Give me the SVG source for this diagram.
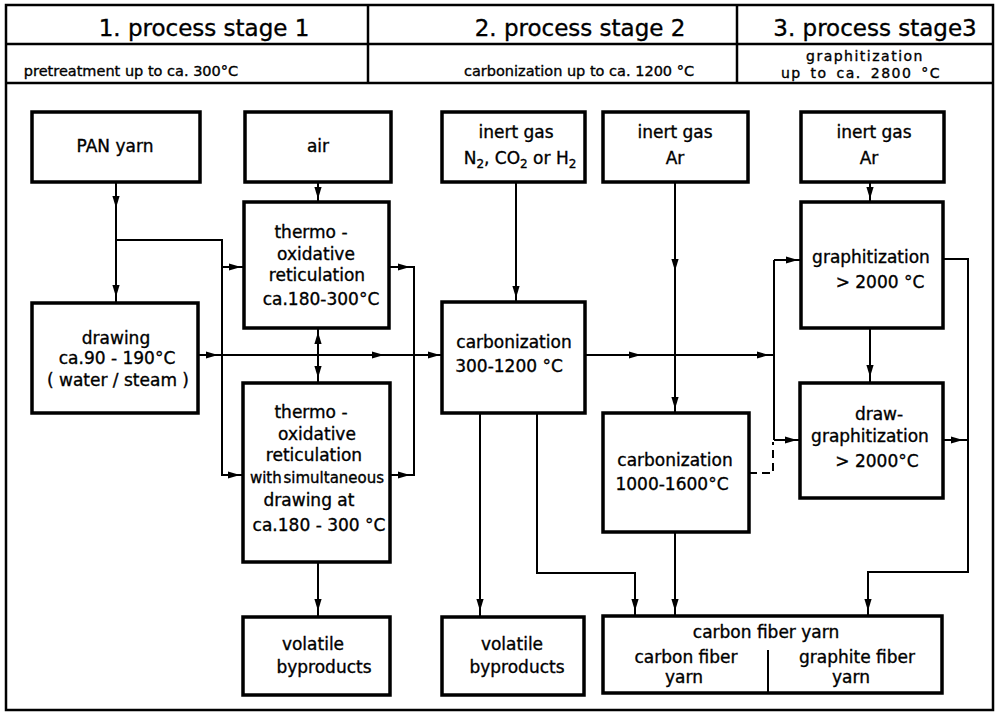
<svg xmlns="http://www.w3.org/2000/svg" width="1000" height="713" viewBox="0 0 1000 713">
  <style>
    .frame { fill: none; stroke: #000; stroke-width: 2.5; }
    .box { fill: #fff; stroke: #000; stroke-width: 3.5; }
    .thin { fill: none; stroke: #000; stroke-width: 2; }
    .ln { fill: none; stroke: #000; stroke-width: 2; }
    .dash { stroke-dasharray: 8 5; }
    text { font-family: "DejaVu Sans", "Liberation Sans", sans-serif; fill: #000; stroke: #000; stroke-width: 0.35; text-anchor: middle; }
    .h1 { font-size: 23px; }
    .h2 { font-size: 14.5px; }
    .h3 { font-size: 14px; letter-spacing: 1.5px; word-spacing: 3px; }
    .n { font-size: 17px; }
    .s { font-size: 15px; word-spacing: -3px; }
    .sub { font-size: 12px; }
  </style>
  <defs>
    <!-- small filled arrowhead, pointing down, tip at origin -->
    <path id="ah" d="M0,0 L-3.6,-12 L3.6,-12 Z" fill="#000"/>
  </defs>

  <!-- outer frame and stage header -->
  <g id="header">
    <rect class="frame" x="6" y="5" width="987" height="705"/>
    <line class="frame" x1="6" y1="44" x2="993" y2="44"/>
    <line class="frame" x1="6" y1="83" x2="993" y2="83"/>
    <line class="frame" x1="368" y1="5" x2="368" y2="83"/>
    <line class="frame" x1="737" y1="5" x2="737" y2="83"/>
    <text class="h1" x="204" y="36">1. process stage 1</text>
    <text class="h1" x="580" y="36">2. process stage 2</text>
    <text class="h1" x="875" y="36">3. process stage3</text>
    <text class="h2" x="131" y="76">pretreatment up to ca. 300°C</text>
    <text class="h2" x="579" y="76">carbonization up to ca. 1200 °C</text>
    <text class="h3" x="865" y="61">graphitization</text>
    <text class="h3" x="861" y="78">up to ca. 2800 °C</text>
  </g>

  <!-- connectors -->
  <g id="connectors">
    <path class="ln" d="M116,182 V303"/>
    <path class="ln" d="M116,240 H222 V475 H243"/>
    <path class="ln" d="M222,267 H244"/>
    <path class="ln" d="M318,182 V202"/>
    <path class="ln" d="M389,267 H414 V475 H390"/>
    <path class="ln" d="M318,328 V383"/>
    <path class="ln" d="M198,355 H442"/>
    <path class="ln" d="M318,562 V617"/>
    <path class="ln" d="M516,182 V302"/>
    <path class="ln" d="M585,355 H774"/>
    <path class="ln" d="M774,260 V440"/>
    <path class="ln" d="M774,260 H801"/>
    <path class="ln" d="M774,440 H800"/>
    <path class="ln dash" d="M749,473 H773 V442"/>
    <path class="ln" d="M675,182 V413"/>
    <path class="ln" d="M870,182 V202"/>
    <path class="ln" d="M870,328 V383"/>
    <path class="ln" d="M943,259 H968 V572 H868 V616"/>
    <path class="ln" d="M943,440 H968"/>
    <path class="ln" d="M480,413 V617"/>
    <path class="ln" d="M537,413 V573 H635 V616"/>
    <path class="ln" d="M675,532 V616"/>

    <!-- downward heads -->
    <use href="#ah" transform="translate(116,208)"/>
    <use href="#ah" transform="translate(116,297)"/>
    <use href="#ah" transform="translate(318,199)"/>
    <use href="#ah" transform="translate(318,378)"/>
    <use href="#ah" transform="translate(318,611)"/>
    <use href="#ah" transform="translate(516,298)"/>
    <use href="#ah" transform="translate(675,271)"/>
    <use href="#ah" transform="translate(675,409)"/>
    <use href="#ah" transform="translate(870,199)"/>
    <use href="#ah" transform="translate(870,377)"/>
    <use href="#ah" transform="translate(480,611)"/>
    <use href="#ah" transform="translate(635,611)"/>
    <use href="#ah" transform="translate(675,611)"/>
    <use href="#ah" transform="translate(868,611)"/>
    <!-- upward head -->
    <use href="#ah" transform="translate(318,332) rotate(180)"/>
    <!-- rightward heads -->
    <use href="#ah" transform="translate(241,267) rotate(-90)"/>
    <use href="#ah" transform="translate(240,475) rotate(-90)"/>
    <use href="#ah" transform="translate(410,267) rotate(-90)"/>
    <use href="#ah" transform="translate(410,475) rotate(-90)"/>
    <use href="#ah" transform="translate(218,355) rotate(-90)"/>
    <use href="#ah" transform="translate(384,355) rotate(-90)"/>
    <use href="#ah" transform="translate(440,355) rotate(-90)"/>
    <use href="#ah" transform="translate(641,355) rotate(-90)"/>
    <use href="#ah" transform="translate(769,355) rotate(-90)"/>
    <use href="#ah" transform="translate(798,260) rotate(-90)"/>
    <use href="#ah" transform="translate(797,440) rotate(-90)"/>
    <use href="#ah" transform="translate(963,440) rotate(-90)"/>
  </g>

  <!-- stage 1 -->
  <g id="pan-yarn">
    <rect class="box" x="32" y="112" width="168" height="70"/>
    <text class="n" x="115" y="152">PAN yarn</text>
  </g>
  <g id="air">
    <rect class="box" x="245" y="112" width="146" height="70"/>
    <text class="n" x="318" y="152">air</text>
  </g>
  <g id="thermo-oxidative-1">
    <rect class="box" x="244" y="202" width="145" height="126"/>
    <text class="n" x="311" y="238">thermo -</text>
    <text class="n" x="316" y="260">oxidative</text>
    <text class="n" x="317" y="281">reticulation</text>
    <text class="n" x="321" y="305">ca.180-300°C</text>
  </g>
  <g id="drawing">
    <rect class="box" x="32" y="303" width="166" height="110"/>
    <text class="n" x="116" y="344">drawing</text>
    <text class="n" x="117" y="364">ca.90 - 190°C</text>
    <text class="n" x="118" y="386">( water / steam )</text>
  </g>
  <g id="thermo-oxidative-2">
    <rect class="box" x="243" y="383" width="147" height="179"/>
    <text class="n" x="311" y="418">thermo -</text>
    <text class="n" x="317" y="440">oxidative</text>
    <text class="n" x="314" y="461">reticulation</text>
    <text class="s" x="317" y="483">with simultaneous</text>
    <text class="n" x="309" y="506">drawing at</text>
    <text class="n" x="319" y="531">ca.180 - 300 °C</text>
  </g>
  <g id="volatile-1">
    <rect class="box" x="243" y="617" width="147" height="78"/>
    <text class="n" x="313" y="650">volatile</text>
    <text class="n" x="324" y="673">byproducts</text>
  </g>

  <!-- stage 2 -->
  <g id="inert-gas-n2">
    <rect class="box" x="442" y="112" width="143" height="70"/>
    <text class="n" x="516" y="138">inert gas</text>
    <text class="n" x="520" y="164">N<tspan class="sub" dy="4">2</tspan><tspan dy="-4">, CO</tspan><tspan class="sub" dy="4">2</tspan><tspan dy="-4"> or H</tspan><tspan class="sub" dy="4">2</tspan></text>
  </g>
  <g id="inert-gas-ar-1">
    <rect class="box" x="603" y="112" width="145" height="70"/>
    <text class="n" x="675" y="138">inert gas</text>
    <text class="n" x="675" y="164">Ar</text>
  </g>
  <g id="carbonization-1">
    <rect class="box" x="442" y="302" width="143" height="111"/>
    <text class="n" x="514" y="348">carbonization</text>
    <text class="n" x="509" y="372">300-1200 °C</text>
  </g>
  <g id="carbonization-2">
    <rect class="box" x="603" y="413" width="146" height="119"/>
    <text class="n" x="675" y="466">carbonization</text>
    <text class="n" x="672" y="490">1000-1600°C</text>
  </g>
  <g id="volatile-2">
    <rect class="box" x="442" y="617" width="142" height="78"/>
    <text class="n" x="512" y="650">volatile</text>
    <text class="n" x="517" y="673">byproducts</text>
  </g>

  <!-- stage 3 -->
  <g id="inert-gas-ar-2">
    <rect class="box" x="801" y="112" width="143" height="70"/>
    <text class="n" x="874" y="138">inert gas</text>
    <text class="n" x="869" y="164">Ar</text>
  </g>
  <g id="graphitization">
    <rect class="box" x="801" y="202" width="142" height="126"/>
    <text class="n" x="871" y="263">graphitization</text>
    <text class="n" x="880" y="288">&gt; 2000 °C</text>
  </g>
  <g id="draw-graphitization">
    <rect class="box" x="800" y="383" width="143" height="115"/>
    <text class="n" x="879" y="420">draw-</text>
    <text class="n" x="870" y="442">graphitization</text>
    <text class="n" x="877" y="467">&gt; 2000°C</text>
  </g>
  <g id="carbon-fiber-yarn">
    <rect class="box" x="603" y="616" width="339" height="77"/>
    <line class="thin" x1="768" y1="650" x2="768" y2="693"/>
    <text class="n" x="766" y="638">carbon fiber yarn</text>
    <text class="n" x="686" y="663">carbon fiber</text>
    <text class="n" x="684" y="683">yarn</text>
    <text class="n" x="857" y="663">graphite fiber</text>
    <text class="n" x="851" y="683">yarn</text>
  </g>
</svg>
